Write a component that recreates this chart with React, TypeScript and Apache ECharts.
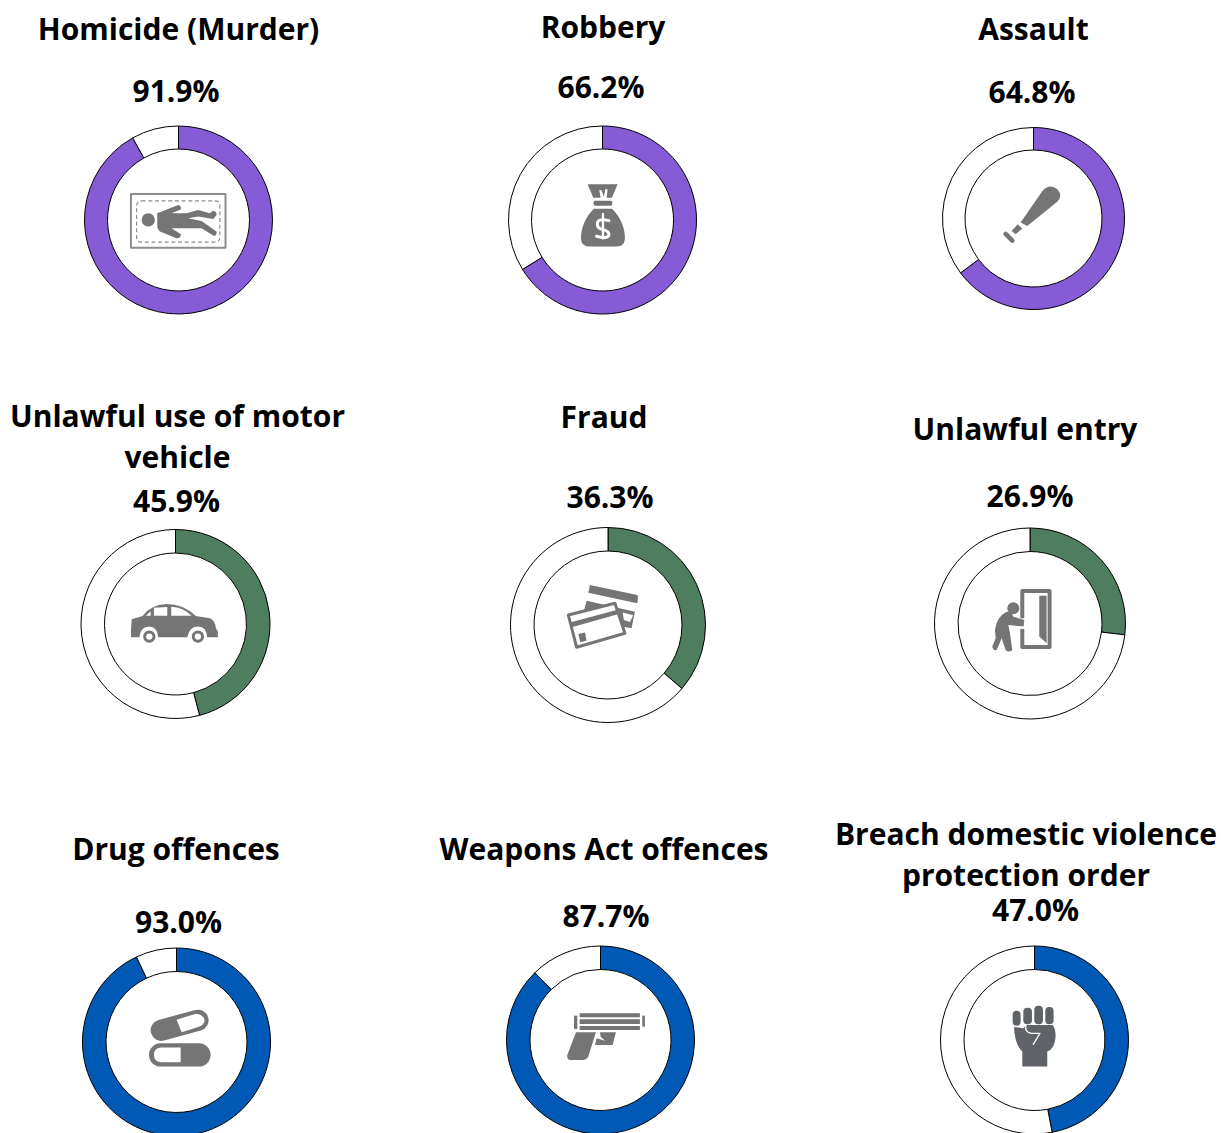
import React, { useEffect, useRef } from "react";
import * as echarts from "echarts";

const titles = [
  "Homicide (Murder)", "Robbery", "Assault",
  "Unlawful use of motor\nvehicle", "Fraud", "Unlawful entry",
  "Drug offences", "Weapons Act offences", "Breach domestic violence\nprotection order",
];
const values = [91.9, 66.2, 64.8, 45.9, 36.3, 26.9, 93.0, 87.7, 47.0];
const PURPLE = "#855BD6";
const GREEN = "#4F7D5F";
const BLUE = "#005AB5";
const colors = [PURPLE, PURPLE, PURPLE, GREEN, GREEN, GREEN, BLUE, BLUE, BLUE];

// layout: [centerX, centerY, innerR, outerR]
const rings = [
  [178.5, 220, 71, 94], [602.5, 220, 71, 94], [1033.5, 218.5, 68.5, 91],
  [175.5, 624, 71, 94.5], [608, 625, 74, 97.5], [1030, 623.5, 72, 95.5],
  [176.5, 1042, 70.5, 94], [600.5, 1040, 70.5, 94], [1034.5, 1040, 70.5, 94],
];
// layout: [x, y] of title centre and value centre
const titlePos = [
  [178.5, 28], [603, 26], [1033.5, 28], [177.5, 435.5], [604, 416], [1025, 428], [176, 848], [604, 848], [1026, 853.5],
];
const valuePos = [
  [176, 90], [601, 86], [1032, 91], [176.5, 500], [610, 496], [1030, 495], [178.5, 921], [606, 915], [1035.5, 909],
];

const G = "#757575";
const W = "#ffffff";
const F = "#5f6368";
const circle = (cx: number, cy: number, r: number) =>
  `M${cx - r} ${cy}A${r} ${r} 0 1 0 ${cx + r} ${cy}A${r} ${r} 0 1 0 ${cx - r} ${cy}Z`;
const rrect = (x0: number, y0: number, x1: number, y1: number, r: number) =>
  `M${x0 + r} ${y0}L${x1 - r} ${y0}Q${x1} ${y0} ${x1} ${y0 + r}L${x1} ${y1 - r}Q${x1} ${y1} ${x1 - r} ${y1}L${x0 + r} ${y1}Q${x0} ${y1} ${x0} ${y1 - r}L${x0} ${y0 + r}Q${x0} ${y0} ${x0 + r} ${y0}Z`;

type Part = { d: string; fill?: string; stroke?: string; w?: number; dash?: number[] };
type Icon = { x: number; y: number; parts: Part[] };

// icon artwork, drawn at 3x around an origin
const icons: Icon[] = [
  { x: 70, y: 115, parts: [
    { d: "M183 237L467 237L467 399L183 399Z", stroke: "#8c8c8c", w: 6 },
    { d: rrect(200, 258, 450, 382, 15), stroke: "#8c8c8c", w: 3.5, dash: [12, 8] },
    { d: circle(235, 315, 20), fill: G },
    { d: "M262 295L325 270Q335 272 333 284L305 295L350 295L385 285L420 295L428 288Q442 288 440 300L430 312L385 305L355 310L395 318L440 350Q442 365 430 362L395 340L345 340L305 340L333 358Q332 372 320 370L270 350Q262 345 262 335Z", fill: G },
  ] },
  { x: 540, y: 170, parts: [
    { d: "M143 43L233 43L216 83L200 83L203 58L196 58L192 80L184 60L178 60L182 83L160 83Z", fill: G },
    { d: rrect(161, 92, 217, 107, 5), fill: G },
    { d: "M162 116L216 116C240 140 255 170 255 205Q255 230 230 230L148 230Q123 230 123 205C123 170 138 140 162 116Z", fill: G },
    { d: "M207 152Q172 144 172 162Q172 176 190 179Q208 184 207 195Q204 208 170 199", stroke: W, w: 9 },
    { d: "M189 132L189 206", stroke: W, w: 7 },
  ] },
  { x: 970, y: 170, parts: [
    { d: "M152 158L218 62Q240 40 262 58Q280 78 262 95L172 168Z", fill: G },
    { d: "M125 183L143 163L157 176L137 193Z", fill: G },
    { d: "M107 192L127 212", stroke: G, w: 14 },
  ] },
  { x: 110, y: 580, parts: [
    { d: "M65 118L98 108Q120 75 170 72Q220 72 258 108L300 115Q318 125 318 145L324 155L324 172L292 172Q290 140 264 140Q238 140 232 172L145 172Q142 140 117 140Q92 140 88 172L63 172L63 150Z", fill: G },
    { d: "M108 107L122 94L122 107Z", fill: W },
    { d: "M132 107L132 83L172 81L172 107Z", fill: W },
    { d: "M184 80Q220 82 245 107L184 107Z", fill: W },
    { d: circle(118, 170, 14), stroke: G, w: 9 },
    { d: circle(264, 170, 14), stroke: G, w: 9 },
  ] },
  { x: 550, y: 570, parts: [
    { d: "M120 45L262 75Q266 78 262 100L115 68Z", fill: G },
    { d: "M100 130L110 92L255 125L245 175L215 170L190 110Z", fill: G },
    { d: "M218 128L250 136L240 156L222 150Z", fill: W },
    { d: "M55 135L195 100L225 190L80 232Z", fill: W, stroke: G, w: 9 },
    { d: "M60 158L200 120L204 133L65 172Z", fill: G },
    { d: "M85 192L105 188L110 212L91 217Z", fill: G },
  ] },
  { x: 975, y: 575, parts: [
    { d: "M142 48L224 48L224 216L142 216Z", stroke: G, w: 12 },
    { d: "M193 62L215 62L215 205L193 185Z", fill: G },
    { d: "M125 130L152 130L152 162L125 162Z", fill: W },
    { d: circle(115, 100, 18), fill: G },
    { d: "M95 110Q65 125 60 165L62 190L52 215Q55 230 65 225L80 190L92 225Q100 235 112 225L105 175L100 150L146 155L148 135L115 125Q110 110 95 110Z", fill: G },
  ] },
  { x: 130, y: 995, parts: [
    { d: "M94 106L204 76", stroke: G, w: 64 },
    { d: "M140 74L198 56Q220 58 224 75Q224 90 205 96L155 112Z", fill: W },
    { d: "M92 180L207 180", stroke: G, w: 70 },
    { d: "M152 158L92 158Q72 160 72 180Q72 200 92 202L152 202Z", fill: W },
  ] },
  { x: 550, y: 1000, parts: [
    { d: "M89 40L270 40L270 52L89 52Z", fill: G },
    { d: "M89 58L270 58L270 72L89 72Z", fill: G },
    { d: "M89 78L270 78L270 90L89 90Z", fill: G },
    { d: "M72 47L82 47L82 87L72 87Z", fill: G },
    { d: "M277 47L285 47L285 80L277 80Z", fill: G },
    { d: "M78 97L138 97L115 170Q110 180 100 180L60 180Q50 178 52 165Z", fill: G },
    { d: "M150 97L198 97L188 135L135 135L140 115L165 122L152 110Z", fill: G },
  ] },
  { x: 990, y: 995, parts: [
    { d: rrect(68, 47, 92, 92, 12), fill: F },
    { d: rrect(100, 38, 126, 88, 12), fill: F },
    { d: rrect(133, 32, 159, 88, 12), fill: F },
    { d: rrect(166, 36, 191, 88, 12), fill: F },
    { d: "M72 96L100 100L110 90L188 90Q197 100 197 125Q195 160 172 170L172 215L97 215L97 170Q75 150 72 96Z", fill: F },
    { d: "M108 92Q103 112 125 115L150 115L130 148", stroke: W, w: 4 },
  ] },
];

let registered = false;
function registerIcons() {
  if (registered) return;
  registered = true;
  icons.forEach((ic, i) =>
    ic.parts.forEach((p, j) => echarts.graphic.registerShape(`icon${i}_${j}`, echarts.graphic.extendPath(p.d, {})))
  );
}

const FONT = "'Open Sans'";

export default function App() {
  const ref = useRef<HTMLDivElement>(null);
  useEffect(() => {
    registerIcons();
    const chart = echarts.init(ref.current!, undefined, { renderer: "svg" });
    const titleStyle = { fontFamily: FONT, fontWeight: 700, fontSize: 30, color: "#000", lineHeight: 41 };
    const valueStyle = { fontFamily: FONT, fontWeight: 700, fontSize: 30, color: "#000", lineHeight: 28 };
    chart.setOption({
      animation: false,
      backgroundColor: "#fff",
      title: [
        ...titles.map((t, i) => ({
          text: t, left: titlePos[i][0], top: titlePos[i][1], textAlign: "center", textVerticalAlign: "middle", padding: 0, textStyle: titleStyle,
        })),
        ...values.map((v, i) => ({
          text: `${v.toFixed(1)}%`, left: valuePos[i][0], top: valuePos[i][1], textAlign: "center", textVerticalAlign: "middle", padding: 0, textStyle: valueStyle,
        })),
      ],
      series: values.map((v, i) => ({
        type: "pie",
        center: [rings[i][0], rings[i][1]],
        radius: [rings[i][2], rings[i][3]],
        startAngle: 90,
        clockwise: true,
        silent: true,
        label: { show: false },
        labelLine: { show: false },
        itemStyle: { borderColor: "#000", borderWidth: 1 },
        data: [
          { value: v, itemStyle: { color: colors[i] } },
          { value: Number((100 - v).toFixed(1)), itemStyle: { color: "#fff" } },
        ],
      })),
      graphic: icons.map((ic, i) => ({
        type: "group",
        x: ic.x,
        y: ic.y,
        scaleX: 1 / 3,
        scaleY: 1 / 3,
        silent: true,
        children: ic.parts.map((p, j) => ({
          type: `icon${i}_${j}`,
          style: {
            fill: p.fill ?? "none",
            stroke: p.stroke ?? "none",
            lineWidth: p.w ?? 0,
            lineCap: p.dash ? "butt" : "round",
            lineJoin: "round",
            lineDash: p.dash,
          },
        })),
      })),
    });
    return () => chart.dispose();
  }, []);
  return <div ref={ref} style={{ position: "absolute", left: 0, top: 0, width: 1224, height: 1133 }} />;
}
